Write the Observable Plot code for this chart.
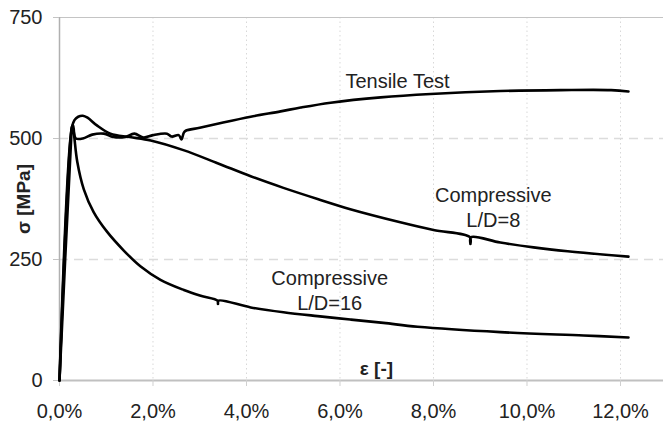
<!DOCTYPE html>
<html>
<head>
<meta charset="utf-8">
<script src="https://cdn.jsdelivr.net/npm/d3@7"></script>
<script src="https://cdn.jsdelivr.net/npm/@observablehq/plot@0.6"></script>
<style>
  html, body { margin: 0; padding: 0; background: #fff; }
</style>
</head>
<body>
<div id="chart"></div>
<script>
// Strain in %, stress in MPa
const tensileStrain = [0, 0.25, 0.27, 0.30, 0.35, 0.50, 0.70, 0.95, 1.15, 1.40, 1.60, 1.80, 2.00, 2.30, 2.40, 2.55, 2.61, 2.63, 2.66, 2.70, 3.00, 3.50, 4.09, 4.73, 5.16, 5.80, 6.87, 7.94, 9.43, 10.72, 11.80, 12.17];
const tensileStress = [0, 500, 525, 515, 500, 500, 508, 510, 503, 503, 510, 502, 507, 510, 504, 507, 498, 503, 512, 516, 522, 533, 545, 556, 564, 574, 585, 592, 598, 600, 600, 597];

const ld8Strain = [0, 0.26, 0.32, 0.40, 0.50, 0.60, 0.80, 1.09, 1.50, 1.95, 2.65, 3.38, 4.09, 4.79, 5.52, 6.22, 7.29, 8.00, 8.78, 8.79, 8.80, 9.43, 10.14, 10.87, 12.17];
const ld8Stress = [0, 520, 538, 545, 547, 543, 527, 510, 503, 496, 476, 449, 422, 398, 375, 354, 327, 311, 296, 282, 296, 285, 275, 267, 256];

const ld16Strain = [0, 0.27, 0.29, 0.32, 0.38, 0.52, 0.73, 1.02, 1.38, 1.73, 2.16, 2.66, 3.02, 3.38, 3.39, 3.40, 4.09, 4.79, 5.52, 6.22, 6.93, 7.66, 9.43, 11.21, 12.17];
const ld16Stress = [0, 525, 528, 500, 452, 395, 348, 307, 268, 236, 208, 187, 175, 165, 158, 165, 151, 141, 133, 126, 119, 111, 100, 93, 89];

const xTicks = [0, 2, 4, 6, 8, 10, 12];
const yTicks = [0, 250, 500, 750];

const labelTexts = ["Tensile Test", "Compressive\nL/D=8", "Compressive\nL/D=16"];
const labelStrain = [7.23, 9.28, 5.78];
const labelStress = [620, 359, 188];

const xTitle = "ε [-]";
const yTitle = "σ [MPa]";

const toRows = (xs, ys) => xs.map((x, i) => ({x, y: ys[i]}));
const labels = labelTexts.map((t, i) => ({t, x: labelStrain[i], y: labelStress[i]}));
const fmt = d => d.toFixed(1).replace(".", ",") + "%";

const chart = Plot.plot({
  width: 663,
  height: 426,
  marginLeft: 59,
  marginRight: 0,
  marginTop: 17,
  marginBottom: 46,
  style: {fontFamily: "'Liberation Sans', Arial, sans-serif", color: "#222", background: "#fff"},
  x: {domain: [0, 12.92]},
  y: {domain: [0, 750]},
  marks: [
    Plot.ruleX(xTicks.slice(1), {stroke: "#d8d8d8", strokeDasharray: "1.5,3"}),
    Plot.ruleY([250, 500], {stroke: "#dcdcdc", strokeWidth: 1.5, strokeDasharray: "9,6"}),
    Plot.ruleY([750], {stroke: "#c4c4c4", strokeWidth: 1}),
    Plot.ruleX([0], {stroke: "#b0b0b0", strokeWidth: 1.5}),
    Plot.ruleY([0], {stroke: "#c0c0c0", strokeWidth: 2}),
    Plot.axisY({ticks: yTicks, tickSize: 6, tickPadding: 11, fontSize: 20, stroke: "#c4c4c4", fill: "#222", label: null}),
    Plot.axisX({ticks: xTicks, tickSize: 6, tickPadding: 17, fontSize: 20, stroke: "#d0d0d0", fill: "#222", tickFormat: fmt, label: null}),
    Plot.line(toRows(tensileStrain, tensileStress), {x: "x", y: "y", stroke: "#000", strokeWidth: 2.6, curve: "catmull-rom"}),
    Plot.line(toRows(ld8Strain, ld8Stress), {x: "x", y: "y", stroke: "#000", strokeWidth: 2.6, curve: "catmull-rom"}),
    Plot.line(toRows(ld16Strain, ld16Stress), {x: "x", y: "y", stroke: "#000", strokeWidth: 2.6, curve: "catmull-rom"}),
    Plot.text(labels, {x: "x", y: "y", text: "t", fontSize: 20, lineHeight: 1.25, fill: "#222", lineAnchor: "middle"}),
    Plot.text([xTitle], {x: 6.78, y: 23.5, text: d => d, fontSize: 19, fontWeight: "bold", fill: "#222"}),
    Plot.text([yTitle], {frameAnchor: "left", dx: -36, rotate: -90, textAnchor: "middle", text: d => d, fontSize: 19, fontWeight: "bold", fill: "#222"})
  ]
});
document.getElementById("chart").appendChild(chart);
</script>
</body>
</html>
